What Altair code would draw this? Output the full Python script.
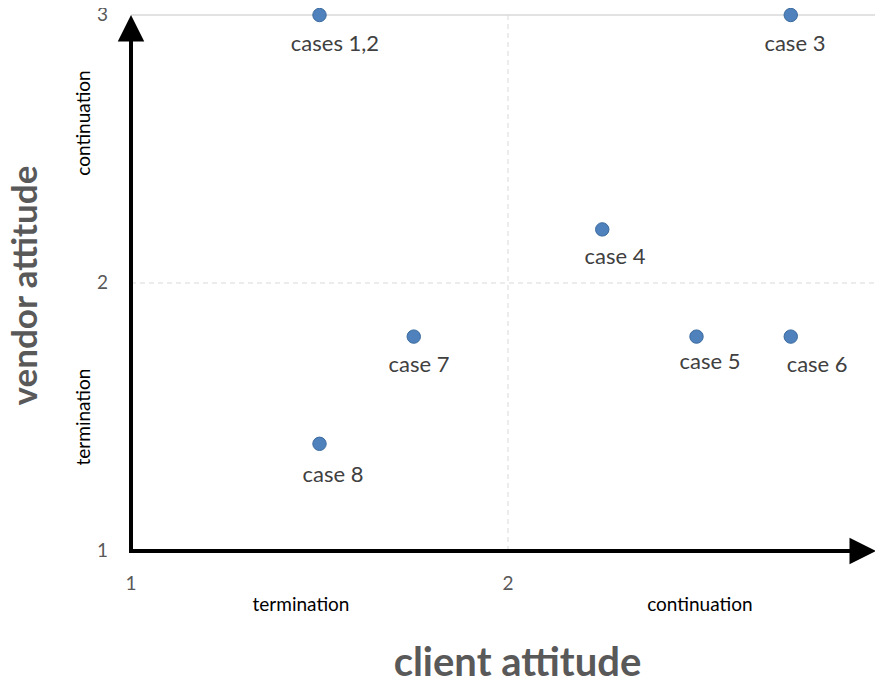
import altair as alt
import pandas as pd

FONT = "Lato"

# data points
cases = ["cases 1,2", "case 3", "case 4", "case 5", "case 6", "case 7", "case 8"]
client = [1.5, 2.75, 2.25, 2.5, 2.75, 1.75, 1.5]
vendor = [3.0, 3.0, 2.2, 1.8, 1.8, 1.8, 1.4]
# data-label anchor positions (data units)
label_x = [1.541, 2.761, 2.284, 2.536, 2.820, 1.764, 1.536]
label_y = [2.892, 2.892, 2.097, 1.705, 1.694, 1.694, 1.284]

ticks = [1, 2, 3]
tick_labels = ["1", "2", "3"]

# quadrant annotations
h_text = ["termination", "continuation"]
h_x = [1.451, 2.509]
h_y = [0.799, 0.799]
v_text = ["continuation", "termination"]
v_x = [0.875, 0.875]
v_y = [2.597, 1.5]

# grid lines
dash_v = [2]
dash_h = [2]
solid_h = [3]

pts = pd.DataFrame({"case": cases, "x": client, "y": vendor})
lbl = pd.DataFrame({"case": cases, "x": label_x, "y": label_y})
htx = pd.DataFrame({"t": h_text, "x": h_x, "y": h_y})
vtx = pd.DataFrame({"t": v_text, "x": v_x, "y": v_y})
xt = pd.DataFrame({"t": tick_labels, "x": ticks, "y": [1] * len(ticks)})
yt = pd.DataFrame({"t": tick_labels, "y": ticks, "x": [1] * len(ticks)})

xscale = alt.Scale(domain=[1, 3], range=[0, 754], nice=False, zero=False)
yscale = alt.Scale(domain=[1, 3], nice=False, zero=False)

x_axis = alt.Axis(title="client attitude", grid=False, labels=False,
                  domain=False, ticks=False, tickSize=0,
                  titleFont=FONT, titleFontSize=40, titleFontWeight="bold",
                  titleColor="#595959", titleX=386, titleY=124,
                  titleAlign="center", titleBaseline="alphabetic")
y_axis = alt.Axis(title="vendor attitude", grid=False, labels=False,
                  domain=False, ticks=False, tickSize=0,
                  titleFont=FONT, titleFontSize=35, titleFontWeight="bold",
                  titleColor="#595959", titleX=-106, titleY=270, titleAngle=270,
                  titleAlign="center", titleBaseline="middle")


def X(f="x"):
    return alt.X(f"{f}:Q", scale=xscale, axis=x_axis)


def Y(f="y"):
    return alt.Y(f"{f}:Q", scale=yscale, axis=y_axis)


grid_v = alt.Chart(pd.DataFrame({"x": dash_v, "y": [1], "y2": [3]})).mark_rule(
    color="#d9d9d9", strokeWidth=1, strokeDash=[5, 4]).encode(x=X(), y=Y(), y2="y2:Q")
grid_h = alt.Chart(pd.DataFrame({"y": dash_h, "x": [1], "x2": [3]})).mark_rule(
    color="#d9d9d9", strokeWidth=1, strokeDash=[5, 4]).encode(y=Y(), x=X(), x2="x2:Q")
grid_top = alt.Chart(pd.DataFrame({"y": solid_h, "x": [1], "x2": [3]})).mark_rule(
    color="#d9d9d9", strokeWidth=1.5).encode(y=Y(), x=X(), x2="x2:Q")

shaft_x = alt.Chart(pd.DataFrame({"x": [1], "x2": [2.92], "y": [1]})).mark_rule(
    color="black", strokeWidth=4, strokeCap="square").encode(x=X(), x2="x2:Q", y=Y())
shaft_y = alt.Chart(pd.DataFrame({"x": [1], "y": [1], "y2": [2.92]})).mark_rule(
    color="black", strokeWidth=4, strokeCap="square").encode(x=X(), y=Y(), y2="y2:Q")

head_up = alt.Chart(pd.DataFrame({"x": [1], "y": [3]})).mark_point(
    shape="M0,0L-1,2L1,2Z", size=700, filled=True, color="black", opacity=1,
    strokeWidth=0).encode(x=X(), y=Y())
head_right = alt.Chart(pd.DataFrame({"x": [2.976], "y": [1]})).mark_point(
    shape="M0,0L-2,-1L-2,1Z", size=700, filled=True, color="black", opacity=1,
    strokeWidth=0).encode(x=X(), y=Y())

points = alt.Chart(pts).mark_circle(
    size=180, color="#4F81BD", stroke="#3A6A9E", strokeWidth=1, opacity=1
).encode(x=X(), y=Y())

labels = alt.Chart(lbl).mark_text(
    font=FONT, fontSize=22, color="#404040", align="center", baseline="middle"
).encode(x=X(), y=Y(), text="case:N")

xticks = alt.Chart(xt).mark_text(
    font=FONT, fontSize=19, color="#595959", align="center", baseline="middle", dy=33
).encode(x=X(), y=Y(), text="t:N")
yticks = alt.Chart(yt).mark_text(
    font=FONT, fontSize=19, color="#595959", align="right", baseline="middle", dx=-23
).encode(x=X(), y=Y(), text="t:N")

htxt = alt.Chart(htx).mark_text(
    font=FONT, fontSize=19, color="#000000", align="center", baseline="middle"
).encode(x=X(), y=Y(), text="t:N")
vtxt = alt.Chart(vtx).mark_text(
    font=FONT, fontSize=19, color="#000000", align="center", baseline="middle",
    angle=270
).encode(x=X(), y=Y(), text="t:N")

chart = alt.layer(
    grid_v, grid_h, grid_top, shaft_x, shaft_y, head_up, head_right,
    points, labels, xticks, yticks, htxt, vtxt
).properties(
    width=744, height=536,
    autosize=alt.AutoSizeParams(type="none"),
    padding={"left": 123, "top": 7, "right": 0, "bottom": 126},
    background="white",
).configure_view(stroke=None)

chart.save("out.html", embed_options={"renderer": "svg", "actions": False})
